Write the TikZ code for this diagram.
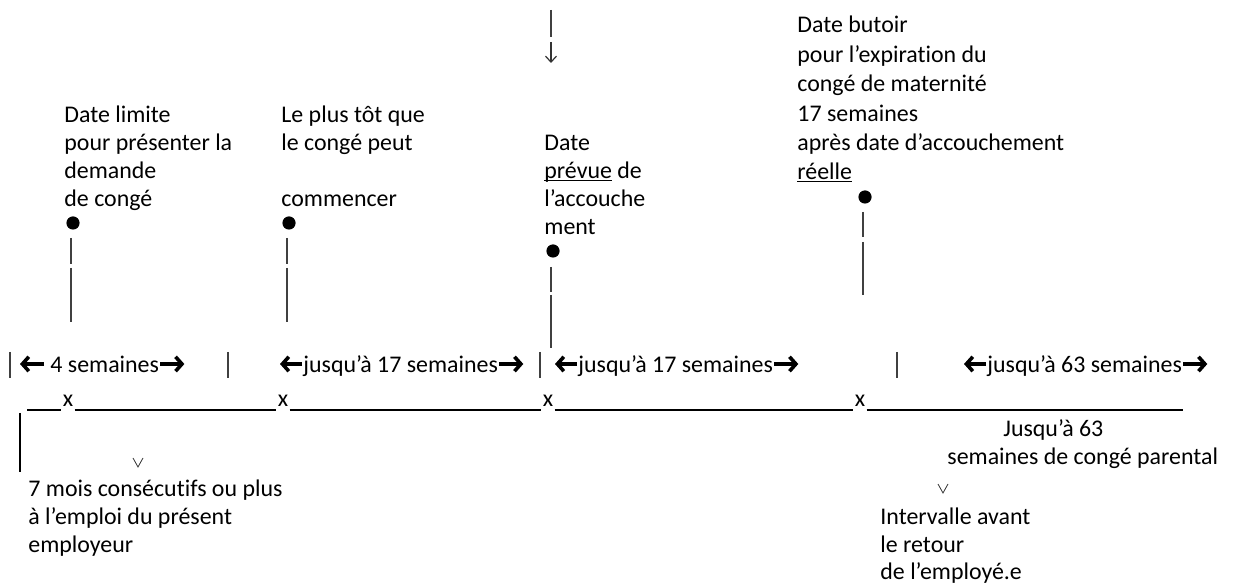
\documentclass[tikz,border=0pt]{standalone}
\usepackage{fontspec}
\setmainfont{Carlito}[Ligatures=NoCommon]
\usetikzlibrary{arrows.meta,calc}
\newcommand\ulword[1]{\setbox0\hbox{#1}\rlap{\rule[-1.1pt]{\wd0}{0.55pt}}\box0\relax}
\begin{document}
\begin{tikzpicture}[x=0.5pt,y=-0.5pt,
  lbl/.style={inner sep=0pt, anchor=base west, font=\fontsize{11.95pt}{14pt}\selectfont},
  xmark/.style={inner sep=0pt, anchor=base, font=\fontsize{11.95pt}{14pt}\selectfont},
  dot/.style={circle, fill=black, inner sep=0pt, minimum size=6.6pt},
  stem/.style={draw=black!75, line width=0.6pt},
  tline/.style={draw=black, line width=1.1pt},
  bigarr/.style={draw=black, line width=2pt, -{Straight Barb[length=3.2pt,width=7.2pt,line width=1.8pt]}},
  vee/.style={draw=black!80, line width=0.4pt},
  downarr/.style={draw=black!80, line width=0.6pt, -{Straight Barb[length=3pt,width=5.5pt,line width=0.6pt]}}]
\useasboundingbox (0,0) rectangle (1254,587);

% top arrow
\coordinate (ta1) at (551,10);
\coordinate (ta2) at (551,37);
\coordinate (ta3) at (551,42);
\coordinate (ta4) at (551,63);
\draw[stem] (ta1) -- (ta2);
\draw[downarr] (ta3) -- (ta4);

% column 1
\node[lbl] (c1a) at (64,123) {Date limite};
\node[lbl] (c1b) at (64,151) {pour présenter la};
\node[lbl] (c1c) at (64,179) {demande};
\node[lbl] (c1d) at (64,207) {de congé};
\node[dot] (d1) at (73,223) {};
\draw[stem] ($(d1)+(-2,15)$) -- ($(d1)+(-2,41)$);
\draw[stem] ($(d1)+(-2,45)$) -- ($(d1)+(-2,99)$);

% column 2
\node[lbl] (c2a) at (281,123) {Le plus tôt que};
\node[lbl] (c2b) at (281,151) {le congé peut};
\node[lbl] (c2c) at (281,207) {commencer};
\node[dot] (d2) at (289,223) {};
\draw[stem] ($(d2)+(-2,15)$) -- ($(d2)+(-2,41)$);
\draw[stem] ($(d2)+(-2,45)$) -- ($(d2)+(-2,99)$);

% column 3
\node[lbl] (c3a) at (544,151) {Date};
\node[lbl] (c3b) at (544,179) {\ulword{prévue} de};
\node[lbl] (c3c) at (544,207) {l’accouche};
\node[lbl] (c3d) at (544,235) {ment};
\node[dot] (d3) at (553,251) {};
\draw[stem] ($(d3)+(-2,16)$) -- ($(d3)+(-2,41)$);
\draw[stem] ($(d3)+(-2,44)$) -- ($(d3)+(-2,97)$);

% column 4
\node[lbl] (c4a) at (797,33) {Date butoir};
\node[lbl] (c4b) at (797,62.5) {pour l’expiration du};
\node[lbl] (c4c) at (797,92) {congé de maternité};
\node[lbl] (c4d) at (797,121.5) {17 semaines};
\node[lbl] (c4e) at (797,151) {après date d’accouchement};
\node[lbl] (c4f) at (797,180) {\ulword{réelle}};
\node[dot] (d4) at (865,197) {};
\draw[stem] ($(d4)+(-2,15)$) -- ($(d4)+(-2,40)$);
\draw[stem] ($(d4)+(-2,45)$) -- ($(d4)+(-2,98)$);

% middle row separators
\foreach \i/\xx in {1/10,2/228,3/540,4/897}{
  \coordinate (sepT\i) at (\xx,352);
  \coordinate (sepB\i) at (\xx,378);
  \draw[stem] (sepT\i) -- (sepB\i);
}

% interval labels
\node[lbl] (p1) at (50,373) {4 semaines};
\node[lbl] (p2) at (303,373) {jusqu’à 17 semaines};
\node[lbl] (p3) at (578,373) {jusqu’à 17 semaines};
\node[lbl] (p4) at (987,373) {jusqu’à 63 semaines};

\draw[bigarr] ($(p1.base west)+(-6,-9)$) -- ($(p1.base west)+(-30,-9)$);
\draw[bigarr] ($(p1.base east)+(1,-9)$) -- ($(p1.base east)+(25,-9)$);
\foreach \p in {p2,p3,p4}{
  \draw[bigarr] ($(\p.base west)+(-1,-9)$) -- ($(\p.base west)+(-23,-9)$);
  \draw[bigarr] ($(\p.base east)+(1,-9)$) -- ($(\p.base east)+(25,-9)$);
}

% timeline
\coordinate (tl) at (0,410);
\coordinate (ts) at (27,410);
\coordinate (te) at (1183,410);
\node[xmark] (x1) at (68,407) {x};
\node[xmark] (x2) at (283,407) {x};
\node[xmark] (x3) at (548,407) {x};
\node[xmark] (x4) at (860,407) {x};
\draw[tline] (ts) -- ($(x1.west |- tl)+(-1,0)$);
\draw[tline] ($(x1.east |- tl)+(1,0)$) -- ($(x2.west |- tl)+(-1,0)$);
\draw[tline] ($(x2.east |- tl)+(1,0)$) -- ($(x3.west |- tl)+(-1,0)$);
\draw[tline] ($(x3.east |- tl)+(1,0)$) -- ($(x4.west |- tl)+(-1,0)$);
\draw[tline] ($(x4.east |- tl)+(1,0)$) -- (te);

% bottom left
\coordinate (lb1) at (20,413);
\coordinate (lb2) at (20,472);
\draw[tline, line width=0.9pt] (lb1) -- (lb2);
\coordinate (v1) at (138,462);
\draw[vee] ($(v1)+(-5,-4)$) -- ($(v1)+(0,5)$) -- ($(v1)+(5,-4)$);
\node[lbl] (b1) at (28,497) {7 mois consécutifs ou plus};
\node[lbl] (b2) at (28,525) {à l’emploi du présent};
\node[lbl] (b3) at (28,553) {employeur};

% bottom right
\node[lbl] (r1) at (1003,437) {Jusqu’à 63};
\node[lbl] (r2) at (947,465) {semaines de congé parental};
\coordinate (v2) at (943,488);
\draw[vee] ($(v2)+(-5,-4)$) -- ($(v2)+(0,5)$) -- ($(v2)+(5,-4)$);
\node[lbl] (r3) at (880,525) {Intervalle avant};
\node[lbl] (r4) at (880,553) {le retour};
\node[lbl] (r5) at (880,580) {de l’employé.e};
\end{tikzpicture}
\end{document}
